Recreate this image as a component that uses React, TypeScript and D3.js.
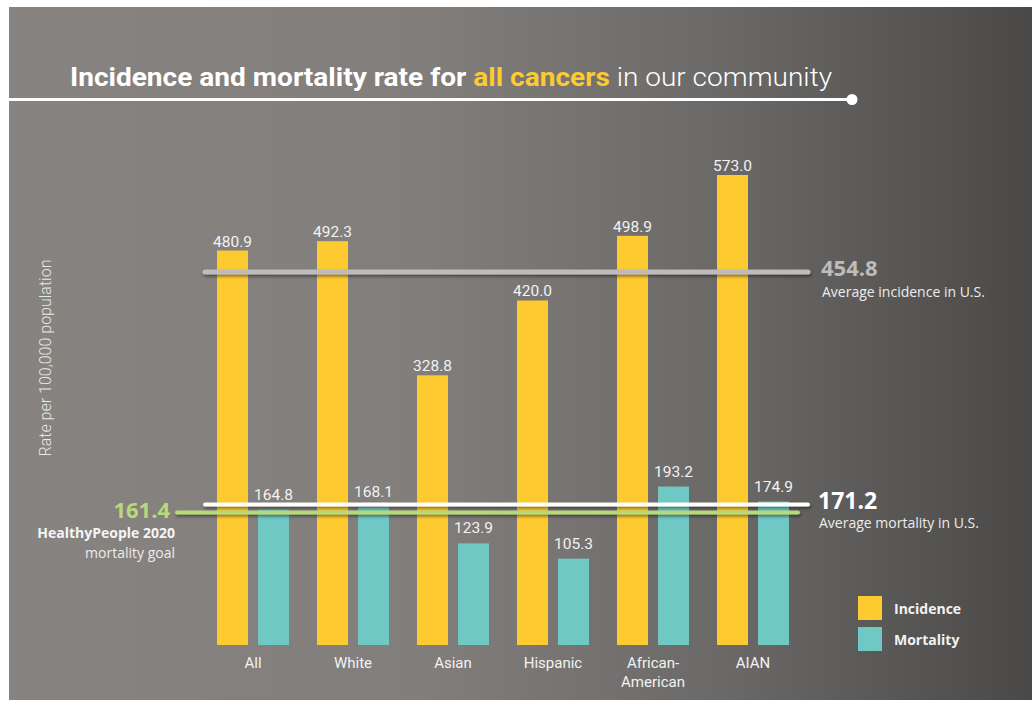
import React, { useEffect, useRef } from "react";
import * as d3 from "d3";

const categories = ["All", "White", "Asian", "Hispanic", "African-American", "AIAN"];
const categoryLines = [["All"], ["White"], ["Asian"], ["Hispanic"], ["African-", "American"], ["AIAN"]];
const incidence = [480.9, 492.3, 328.8, 420.0, 498.9, 573.0];
const mortality = [164.8, 168.1, 123.9, 105.3, 193.2, 174.9];
const avgIncidence = 454.8;
const avgMortality = 171.2;
const goalMortality = 161.4;
const seriesNames = ["Incidence", "Mortality"];

const YELLOW = "#fdca2f";
const TEAL = "#6fc8c3";
const GREEN = "#b8d97a";
const GRAY_LINE = "#bdbcba";

export default function App() {
  const ref = useRef<SVGSVGElement>(null);

  useEffect(() => {
    document.body.style.margin = "0";
    const width = 1032;
    const height = 702;
    const svg = d3.select(ref.current);
    svg.selectAll("*").remove();
    svg.attr("width", width).attr("height", height);

    const defs = svg.append("defs");
    const grad = defs.append("linearGradient").attr("id", "bg").attr("x1", "0%").attr("x2", "100%");
    grad.append("stop").attr("offset", "0%").attr("stop-color", "#878381");
    grad.append("stop").attr("offset", "40%").attr("stop-color", "#817e7c");
    grad.append("stop").attr("offset", "70%").attr("stop-color", "#6b6967");
    grad.append("stop").attr("offset", "100%").attr("stop-color", "#4a4948");

    // line shadow, user space so zero-height lines still render
    const shadow = defs.append("filter").attr("id", "shadow").attr("filterUnits", "userSpaceOnUse")
      .attr("x", 0).attr("y", 0).attr("width", width).attr("height", height);
    shadow.append("feDropShadow").attr("dx", 1).attr("dy", 2).attr("stdDeviation", 1.5)
      .attr("flood-color", "#000").attr("flood-opacity", 0.45);

    svg.append("rect").attr("x", 9).attr("y", 7).attr("width", width - 9).attr("height", 693)
      .attr("fill", "url(#bg)");

    // title
    const title = svg.append("text").attr("x", 70).attr("y", 86)
      .attr("font-family", "Roboto").attr("font-size", 26).attr("fill", "#fff")
      .attr("textLength", 762).attr("lengthAdjust", "spacingAndGlyphs");
    title.append("tspan").attr("font-weight", 700).text("Incidence and mortality rate for ");
    title.append("tspan").attr("font-weight", 700).attr("fill", YELLOW).text("all cancers");
    title.append("tspan").attr("font-weight", 300).text(" in our community");

    svg.append("line").attr("x1", 9).attr("x2", 852).attr("y1", 99.5).attr("y2", 99.5)
      .attr("stroke", "#fff").attr("stroke-width", 3);
    svg.append("circle").attr("cx", 852).attr("cy", 99.5).attr("r", 5.5).attr("fill", "#fff");

    const y = d3.scaleLinear().domain([0, 573]).range([645, 175]);
    const x0 = d3.scaleBand<string>().domain(categories).range([203, 803]);
    const x1 = d3.scaleBand<string>().domain(seriesNames).range([14, 86]).paddingInner(0.244);

    const groups = svg.append("g").selectAll("g").data(categories).join("g")
      .attr("transform", (d) => `translate(${x0(d)},0)`);

    const rows = categories.map((c, i) => [
      { key: "Incidence", value: incidence[i], color: YELLOW, gap: 4 },
      { key: "Mortality", value: mortality[i], color: TEAL, gap: 10 },
    ]);

    groups.selectAll("rect").data((_, i) => rows[i]).join("rect")
      .attr("x", (d) => x1(d.key)!)
      .attr("y", (d) => y(d.value))
      .attr("width", x1.bandwidth())
      .attr("height", (d) => y(0) - y(d.value))
      .attr("fill", (d) => d.color);

    groups.selectAll("text.val").data((_, i) => rows[i]).join("text")
      .attr("class", "val")
      .attr("x", (d) => x1(d.key)! + x1.bandwidth() / 2)
      .attr("y", (d) => y(d.value) - d.gap)
      .attr("text-anchor", "middle")
      .attr("font-family", "Roboto").attr("font-size", 15.5).attr("fill", "#f2f2f2")
      .text((d) => d.value.toFixed(1));

    // category labels
    groups.append("text")
      .attr("x", x0.bandwidth() / 2)
      .attr("y", 668)
      .attr("text-anchor", "middle")
      .attr("font-family", "Roboto").attr("font-size", 15).attr("fill", "#f2f2f2")
      .selectAll("tspan").data((_, i) => categoryLines[i]).join("tspan")
      .attr("x", x0.bandwidth() / 2)
      .attr("dy", (_, j) => (j === 0 ? 0 : 19))
      .text((d) => d);

    // reference lines
    const refLine = (x1v: number, x2v: number, v: number, color: string, w: number) =>
      svg.append("line").attr("x1", x1v).attr("x2", x2v).attr("y1", y(v)).attr("y2", y(v))
        .attr("stroke", color).attr("stroke-width", w).attr("stroke-linecap", "round")
        .attr("filter", "url(#shadow)");
    refLine(205, 808, avgIncidence, GRAY_LINE, 5);
    refLine(177, 798, goalMortality, GREEN, 4);
    refLine(205, 808, avgMortality, "#ffffff", 4);

    // right annotations
    svg.append("text").attr("x", 821).attr("y", y(avgIncidence) + 4)
      .attr("font-family", "Open Sans").attr("font-weight", 700).attr("font-size", 22)
      .attr("fill", GRAY_LINE).text(avgIncidence.toFixed(1));
    svg.append("text").attr("x", 822).attr("y", y(avgIncidence) + 25)
      .attr("font-family", "Open Sans").attr("font-size", 14).attr("fill", "#ececec")
      .text("Average incidence in U.S.");
    svg.append("text").attr("x", 818).attr("y", y(avgMortality) + 4)
      .attr("font-family", "Open Sans").attr("font-weight", 700).attr("font-size", 23)
      .attr("fill", "#fff").text(avgMortality.toFixed(1));
    svg.append("text").attr("x", 819).attr("y", y(avgMortality) + 23)
      .attr("font-family", "Open Sans").attr("font-size", 14).attr("fill", "#ececec")
      .text("Average mortality in U.S.");

    // left annotation
    svg.append("text").attr("x", 170).attr("y", y(goalMortality) + 5).attr("text-anchor", "end")
      .attr("font-family", "Open Sans").attr("font-weight", 700).attr("font-size", 22)
      .attr("fill", GREEN).text(goalMortality.toFixed(1));
    svg.append("text").attr("x", 175).attr("y", 538).attr("text-anchor", "end")
      .attr("font-family", "Open Sans").attr("font-weight", 700).attr("font-size", 14)
      .attr("fill", "#f5f5f5").text("HealthyPeople 2020");
    svg.append("text").attr("x", 175).attr("y", 558).attr("text-anchor", "end")
      .attr("font-family", "Open Sans").attr("font-size", 14)
      .attr("fill", "#ececec").text("mortality goal");

    // y axis title
    svg.append("text").attr("transform", "translate(51,358) rotate(-90)")
      .attr("text-anchor", "middle")
      .attr("font-family", "Roboto").attr("font-weight", 300).attr("font-size", 16)
      .attr("fill", "#e8e8e8").text("Rate per 100,000 population");

    // legend
    const legend = svg.append("g").attr("transform", "translate(858,596)");
    const legendItems = legend.selectAll("g").data(seriesNames).join("g")
      .attr("transform", (_, i) => `translate(0,${i * 31})`);
    legendItems.append("rect").attr("width", 24).attr("height", 24)
      .attr("fill", (_, i) => (i === 0 ? YELLOW : TEAL));
    legendItems.append("text").attr("x", 36).attr("y", 18)
      .attr("font-family", "Open Sans").attr("font-weight", 700).attr("font-size", 14)
      .attr("fill", "#f2f2f2").text((d) => d);
  }, []);

  return <svg ref={ref} style={{ display: "block" }}></svg>;
}
